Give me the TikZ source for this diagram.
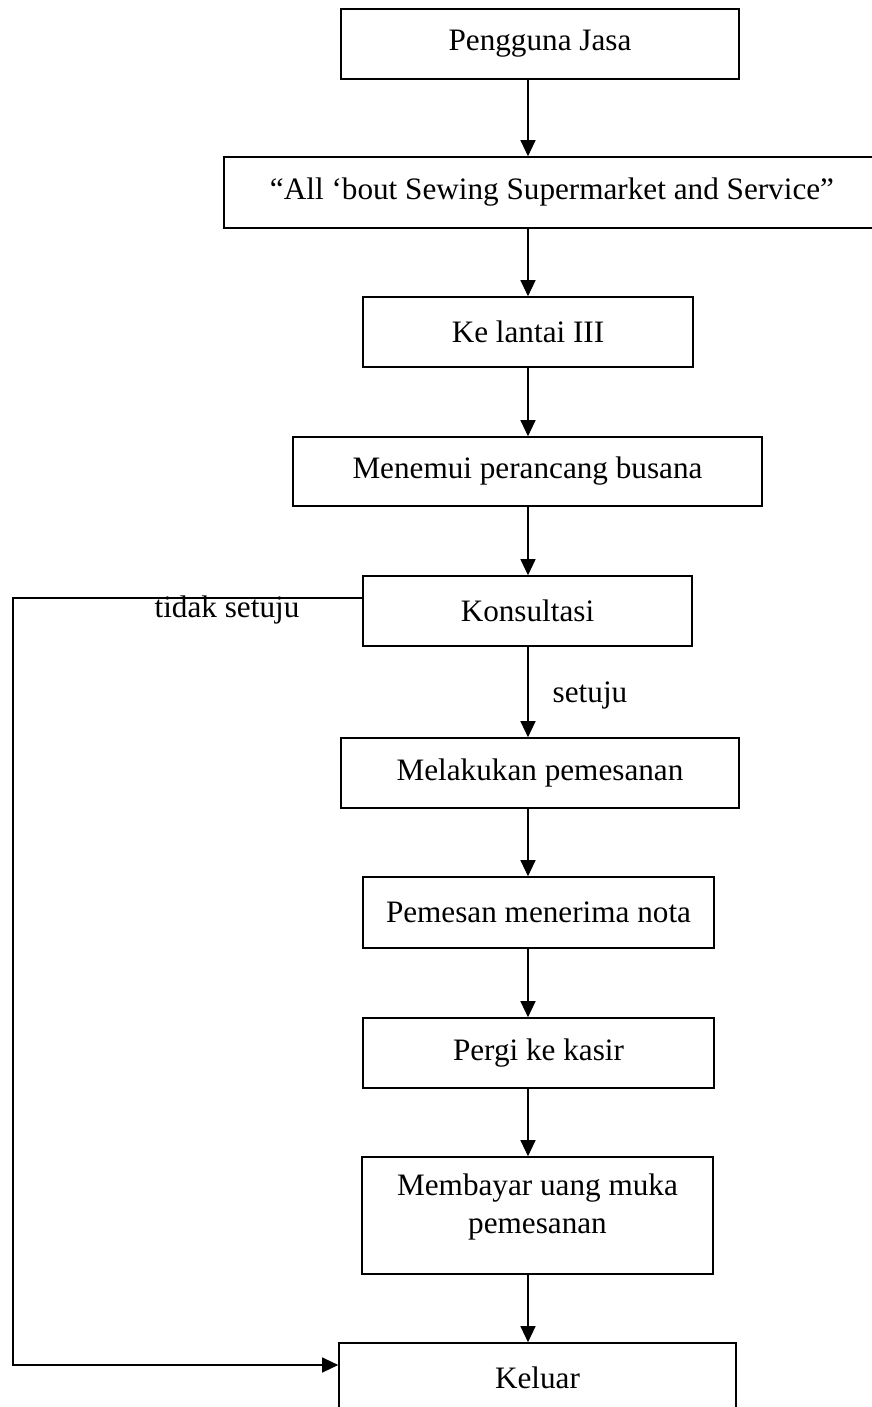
\documentclass[tikz,border=0pt]{standalone}
\usepackage{fontspec}
\setmainfont{Liberation Serif}
\usetikzlibrary{arrows.meta}
\tikzset{
  box/.style={draw,line width=0.8pt,inner sep=0pt,align=center},
  arr/.style={line width=0.6pt,-{Triangle[length=8pt,width=7.5pt]}}
}
\begin{document}
\begin{tikzpicture}[x=0.5pt,y=-0.5pt,font=\fontsize{15.6}{19}\selectfont]
				\useasboundingbox (0,0) rectangle (872,1407);
				\node [box,minimum width=199pt,minimum height=35pt] (pengguna) at (540,44) {Pengguna Jasa};
				\node [box,minimum width=328pt,minimum height=35.5pt] (toko) at (552,192.5) {``All `bout Sewing Supermarket and Service''};
				\node [box,minimum width=165pt,minimum height=35pt] (lantai) at (528,332) {Ke lantai III};
				\node [box,minimum width=234.5pt,minimum height=34.5pt] (perancang) at (527.5,471.5) {Menemui perancang busana};
				\node [box,minimum width=164.5pt,minimum height=35pt] (konsultasi) at (527.5,611) {Konsultasi};
				\node [box,minimum width=199pt,minimum height=35pt] (pesan) at (540,773) {Melakukan pemesanan};
				\node [box,minimum width=175.5pt,minimum height=35.5pt] (nota) at (538.5,912.5) {Pemesan menerima nota};
				\node [box,minimum width=175.5pt,minimum height=35pt] (kasir) at (538.5,1053) {Pergi ke kasir};
				\node [box,minimum width=175.5pt,minimum height=58.5pt,text depth=12pt] (bayar) at (537.5,1215.5) {Membayar uang muka\\pemesanan};
				\node [box,minimum width=198.5pt,minimum height=35pt] (keluar) at (537.5,1378) {Keluar};
				\coordinate (spine) at (528,0);
				\draw [arr] (pengguna.south -| spine) -- (toko.north -| spine);
				\draw [arr] (toko.south -| spine) -- (lantai.north -| spine);
				\draw [arr] (lantai.south -| spine) -- (perancang.north -| spine);
				\draw [arr] (perancang.south -| spine) -- (konsultasi.north -| spine);
				\draw [arr] (konsultasi.south -| spine) -- (pesan.north -| spine);
				\draw [arr] (pesan.south -| spine) -- (nota.north -| spine);
				\draw [arr] (nota.south -| spine) -- (kasir.north -| spine);
				\draw [arr] (kasir.south -| spine) -- (bayar.north -| spine);
				\draw [arr] (bayar.south -| spine) -- (keluar.north -| spine);
				\coordinate (kiriatas) at (13,598);
				\coordinate (kiribawah) at (13,1365);
				\draw [arr] (konsultasi.west |- kiriatas) -- (kiriatas) -- (kiribawah) -- (keluar.west |- kiribawah);
				\node [inner sep=0pt] (tidak) at (227,610) {tidak setuju};
				\node [inner sep=0pt] (setuju) at (590,695) {setuju};
			\end{tikzpicture}
\end{document}
